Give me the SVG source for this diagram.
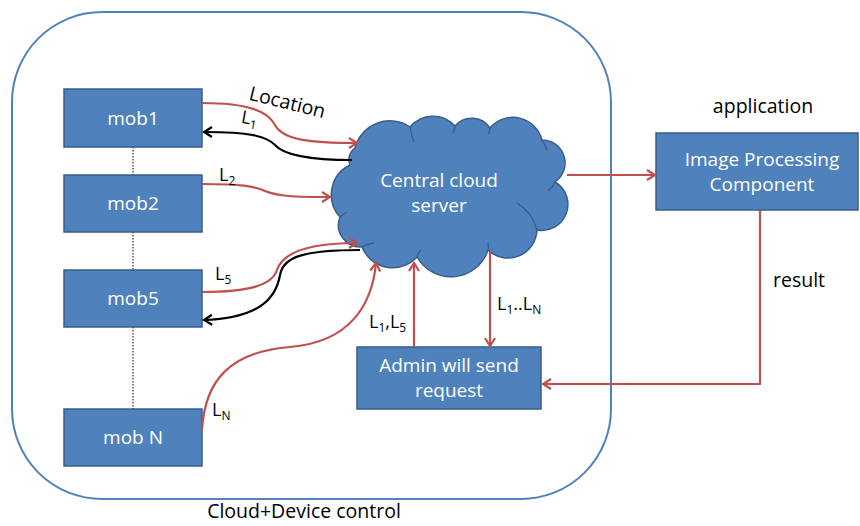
<svg xmlns="http://www.w3.org/2000/svg" width="860" height="526" viewBox="0 0 860 526">
<defs>
<style>
.box{fill:#4F81BD;stroke:#385D8A;stroke-width:1.5}
.wt{fill:#fff;font-family:"Open Sans",sans-serif;font-size:19px;text-anchor:middle}
.bt{fill:#000;font-family:"Open Sans",sans-serif;font-size:19.5px}
.lt{fill:#000;font-family:"Open Sans",sans-serif;font-size:18px}
.red{fill:none;stroke:#C0504D;stroke-width:2.2;marker-end:url(#ar)}
.blk{fill:none;stroke:#000;stroke-width:2.2;marker-end:url(#ab)}
.sub{font-size:12px}
.crease{fill:none;stroke:#385D8A;stroke-width:1.3}
</style>
<marker id="ar" viewBox="0 0 12 12" refX="10" refY="6" markerWidth="12" markerHeight="12" markerUnits="userSpaceOnUse" orient="auto">
<path d="M2,1 L10,6 L2,11" fill="none" stroke="#C0504D" stroke-width="2.2"/>
</marker>
<marker id="ab" viewBox="0 0 12 12" refX="10" refY="6" markerWidth="12" markerHeight="12" markerUnits="userSpaceOnUse" orient="auto">
<path d="M2,1 L10,6 L2,11" fill="none" stroke="#000" stroke-width="2.2"/>
</marker>
</defs>
<rect width="860" height="526" fill="#fff"/>
<g id="container">
<rect x="12" y="12" width="599" height="487" rx="90" ry="90" fill="none" stroke="#4F81BD" stroke-width="2"/>
<text class="bt" x="304" y="518" text-anchor="middle">Cloud+Device control</text>
</g>
<g id="dotted">
<line x1="133" y1="147" x2="133" y2="175" stroke="#000" stroke-width="1" stroke-dasharray="1.5,1.5"/>
<line x1="133" y1="232" x2="133" y2="270" stroke="#000" stroke-width="1" stroke-dasharray="1.5,1.5"/>
<line x1="133" y1="327" x2="133" y2="409" stroke="#000" stroke-width="1" stroke-dasharray="1.5,1.5"/>
</g>
<g id="mob1"><rect class="box" x="64" y="89" width="138" height="58"/><text class="wt" x="133" y="125">mob1</text></g>
<g id="mob2"><rect class="box" x="64" y="175" width="138" height="57"/><text class="wt" x="133" y="210">mob2</text></g>
<g id="mob5"><rect class="box" x="64" y="270" width="138" height="57"/><text class="wt" x="133" y="305">mob5</text></g>
<g id="mobN"><rect class="box" x="64" y="409" width="138" height="57"/><text class="wt" x="133" y="444">mob N</text></g>
<g id="cloud">
<path class="box" d="M355,148 A36,36 0 0 1 410,127 A30,30 0 0 1 455,126 A22,22 0 0 1 490,128 A30,30 0 0 1 542,140 A23,23 0 0 1 555,182 A26,26 0 0 1 537,230 A29,29 0 0 1 488,250 A39,39 0 0 1 417,257 A33,33 0 0 1 362,247 A22,22 0 0 1 340,217 A33,33 0 0 1 350,165 A14,14 0 0 1 355,148 Z"/>
<path class="crease" d="M410,127 Q411,135 414,142"/>
<path class="crease" d="M455,126 Q455,129 453,133"/>
<path class="crease" d="M490,128 Q490,131 488,134"/>
<path class="crease" d="M542,140 Q545,144 547,150"/>
<path class="crease" d="M555,182 Q553,187 548,191"/>
<path class="crease" d="M517,203 Q532,212 537,230"/>
<path class="crease" d="M488,250 Q489,247 488,243"/>
<path class="crease" d="M417,257 Q418,253 421,250"/>
<path class="crease" d="M362,247 Q367,244 374,243"/>
<path class="crease" d="M340,217 Q343,214 347,212"/>
<text class="wt" x="439" y="187">Central cloud</text>
<text class="wt" x="439" y="212">server</text>
</g>
<g id="image-processing">
<rect class="box" x="656" y="133" width="202" height="77"/>
<text class="wt" x="762" y="166">Image Processing</text>
<text class="wt" x="762" y="191">Component</text>
</g>
<g id="admin">
<rect class="box" x="357" y="347" width="184" height="62"/>
<text class="wt" x="449" y="372">Admin will send</text>
<text class="wt" x="449" y="397">request</text>
</g>
<g id="connectors">
<path class="red" d="M202,103 C250,103 268,112 275,125 C283,140 310,143 357,143"/>
<path class="blk" d="M352,160 C300,160 282,153 275,145 C266,136 250,132 204,132"/>
<path class="red" d="M202,184 C240,184 255,186 265,191 C280,197 300,197 330,197"/>
<path class="red" d="M202,292 C250,292 272,285 277,270 C283,252 310,243 357,243"/>
<path class="blk" d="M360,250 C300,250 283,258 280,275 C276,298 260,318 204,320"/>
<path class="red" d="M202,430 C205,380 230,352 290,347 C350,342 372,305 376,263"/>
<path class="red" d="M414,347 V263"/>
<path class="red" d="M490,252 V346"/>
<path class="red" d="M567,175 H655"/>
<path class="red" d="M760,210 V384 H543"/>
</g>
<g id="labels">
<text class="bt" x="287" y="109" text-anchor="middle" transform="rotate(14 287 104)">Location</text>
<text class="lt" x="241" y="124" transform="rotate(10 248 120)">L<tspan class="sub" dy="4">1</tspan></text>
<text class="lt" x="219" y="181">L<tspan class="sub" dy="4">2</tspan></text>
<text class="lt" x="215" y="280">L<tspan class="sub" dy="4">5</tspan></text>
<text class="lt" x="212" y="416">L<tspan class="sub" dy="4">N</tspan></text>
<text class="lt" x="369" y="328">L<tspan class="sub" dy="4">1</tspan><tspan dy="-4">,L</tspan><tspan class="sub" dy="4">5</tspan></text>
<text class="lt" x="497" y="310">L<tspan class="sub" dy="4">1</tspan><tspan dy="-4">..L</tspan><tspan class="sub" dy="4">N</tspan></text>
<text class="bt" x="763" y="113" text-anchor="middle">application</text>
<text class="bt" x="799" y="287" text-anchor="middle">result</text>
</g>
</svg>
